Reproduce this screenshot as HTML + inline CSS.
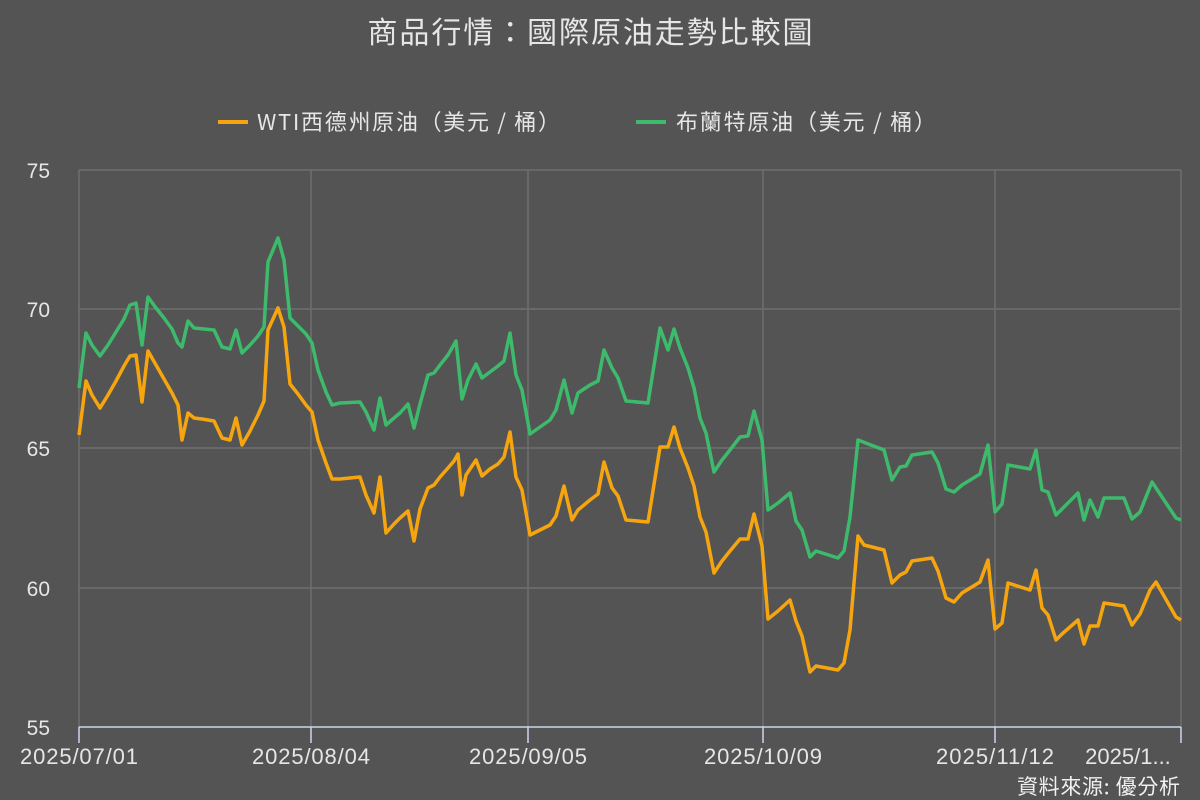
<!DOCTYPE html>
<html><head><meta charset="utf-8"><style>
body{margin:0;background:#545454;}
svg{display:block;font-family:"Liberation Sans","Noto Sans CJK TC",sans-serif;}
.cjk{font-family:"Noto Sans CJK TC",sans-serif;}
</style></head><body>
<svg width="1200" height="800" viewBox="0 0 1200 800">
<rect width="1200" height="800" fill="#545454"/>
<text class="cjk" x="590" y="43" text-anchor="middle" font-size="30" fill="#e6e6e6" textLength="445">商品行情：國際原油走勢比較圖</text>
<line x1="218" y1="122" x2="248" y2="122" stroke="#f6a50f" stroke-width="4"/>
<text class="cjk" x="257" y="130" font-size="22" fill="#e6e6e6" textLength="303">WTI西德州原油（美元 / 桶）</text>
<line x1="636" y1="122" x2="666" y2="122" stroke="#3dba6c" stroke-width="4"/>
<text class="cjk" x="676" y="130" font-size="22" fill="#e6e6e6" textLength="260">布蘭特原油（美元 / 桶）</text>
<g stroke="#6e6e6e" stroke-width="1.5">
<line x1="79" y1="170" x2="1181" y2="170"/><line x1="79" y1="309" x2="1181" y2="309"/>
<line x1="79" y1="448" x2="1181" y2="448"/><line x1="79" y1="588" x2="1181" y2="588"/>
<line x1="79" y1="170" x2="79" y2="727"/><line x1="311" y1="170" x2="311" y2="727"/>
<line x1="528" y1="170" x2="528" y2="727"/><line x1="763" y1="170" x2="763" y2="727"/>
<line x1="995" y1="170" x2="995" y2="727"/><line x1="1181" y1="170" x2="1181" y2="727"/>
</g>
<g stroke="#ccd6eb" stroke-width="1.5">
<line x1="79" y1="727" x2="1181" y2="727"/>
<line x1="79" y1="727" x2="79" y2="743"/><line x1="311" y1="727" x2="311" y2="743"/>
<line x1="528" y1="727" x2="528" y2="743"/><line x1="763" y1="727" x2="763" y2="743"/>
<line x1="995" y1="727" x2="995" y2="743"/><line x1="1181" y1="727" x2="1181" y2="743"/>
</g>
<g font-size="21" fill="#e6e6e6" text-anchor="end">
<text x="50" y="178">75</text><text x="50" y="317">70</text><text x="50" y="456">65</text><text x="50" y="596">60</text><text x="50" y="735">55</text>
</g>
<g font-size="22" fill="#e6e6e6" text-anchor="middle">
<text x="79" y="764" textLength="118">2025/07/01</text><text x="311" y="764" textLength="118">2025/08/04</text><text x="528" y="764" textLength="118">2025/09/05</text><text x="763" y="764" textLength="118">2025/10/09</text><text x="995" y="764" textLength="118">2025/11/12</text><text x="1128" y="764">2025/1...</text>
</g>
<text class="cjk" x="1180" y="794" text-anchor="end" font-size="21" fill="#f0f0f0" textLength="163">資料來源: 優分析</text>
<polyline fill="none" stroke="#3dba6c" stroke-width="3.5" stroke-linejoin="round" points="79,388 86,333 92,345 100,356 108,345 116,332 124,319 130,305 136,303 142,345 148,297 156,308 164,318 172,329 178,343 182,347 188,321 194,328 214,330 222,347 230,349 236,330 242,353 250,345 258,336 264,327 268,262 278,238 284,260 290,318 298,326 306,334 312,343 318,370 326,392 332,405 340,403 360,402 366,412 374,430 380,398 386,425 394,418 400,413 408,404 414,428 420,404 428,375 434,373 440,365 448,355 456,341 462,399 468,380 476,364 482,378 490,372 498,366 504,361 510,333 516,375 522,390 530,434 540,427 550,420 556,410 564,380 572,413 578,393 590,385 598,381 604,350 612,368 618,378 626,401 648,403 660,328 668,350 674,329 680,348 688,368 694,388 700,418 706,433 714,472 722,460 730,450 740,437 748,436 754,411 762,440 768,510 778,503 790,493 796,521 802,530 810,557 816,551 838,558 844,551 850,517 858,440 884,450 892,480 900,467 906,466 912,455 932,452 938,463 946,489 954,492 962,485 980,474 988,445 995,512 1002,504 1008,465 1030,469 1036,450 1042,490 1048,492 1056,515 1062,509 1078,493 1084,520 1090,500 1098,517 1104,498 1124,498 1132,519 1140,512 1152,482 1176,518 1181,520"/>
<polyline fill="none" stroke="#f6a50f" stroke-width="3.5" stroke-linejoin="round" points="79,435 86,381 92,395 100,408 108,395 116,381 124,366 130,356 136,355 142,402 148,351 156,365 164,379 172,393 178,405 182,440 188,413 194,418 202,419 214,421 222,438 230,440 236,418 242,445 250,431 258,415 264,401 268,330 278,308 284,327 290,384 298,394 306,405 312,412 318,440 326,463 332,479 340,479 350,478 360,477 366,495 374,513 380,477 386,533 394,524 400,518 408,511 414,541 420,509 428,488 434,485 440,477 448,468 454,461 458,454 462,495 466,475 476,460 482,476 490,469 498,464 504,457 510,432 516,477 522,490 530,535 540,530 550,525 556,516 564,486 572,520 578,510 590,500 598,494 604,462 612,488 618,496 626,520 648,522 660,447 668,447 674,427 680,448 688,468 694,486 700,517 706,532 714,573 722,561 730,551 740,539 748,539 754,514 762,546 768,619 778,611 790,600 796,621 802,636 810,672 816,666 838,670 844,663 850,630 858,536 864,545 884,550 892,583 900,575 906,572 912,561 932,558 938,571 946,598 954,602 962,593 980,582 988,560 995,629 1002,623 1008,583 1030,590 1036,570 1042,608 1048,615 1056,640 1062,634 1078,620 1084,644 1090,626 1098,626 1104,603 1124,606 1132,625 1140,614 1150,590 1156,582 1176,617 1181,620"/>
</svg>
</body></html>
